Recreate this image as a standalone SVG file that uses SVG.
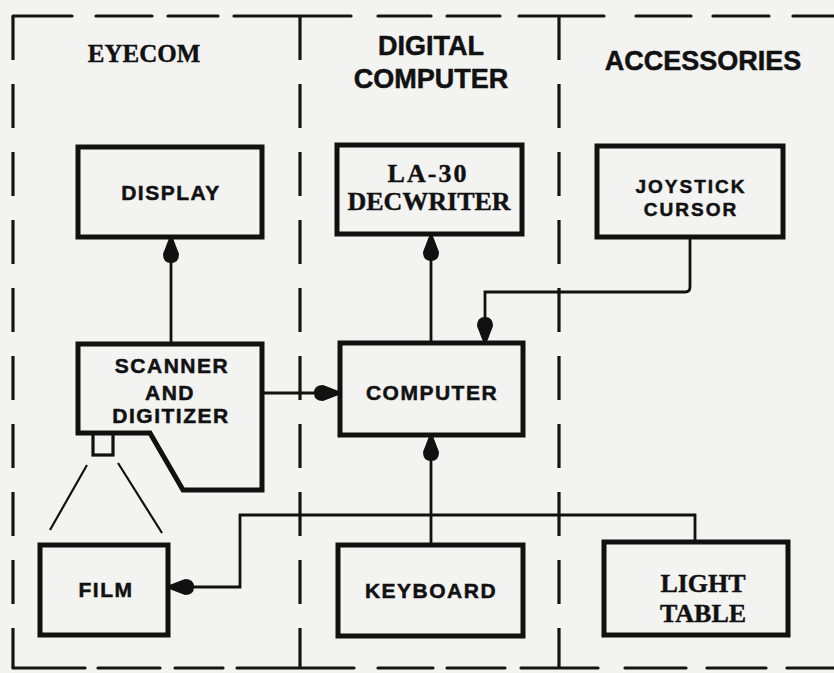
<svg xmlns="http://www.w3.org/2000/svg" width="834" height="673" viewBox="0 0 834 673">
<style>
.bg{fill:#f3f3f1}
.frame{fill:none;stroke:#141414;stroke-width:3.2;stroke-linecap:round}
.vdash{fill:none;stroke:#141414;stroke-width:3.2;stroke-dasharray:44 24}
.box{fill:none;stroke:#111;stroke-width:5;stroke-linejoin:miter}
.conn{fill:none;stroke:#111;stroke-width:2.8}
.thin{fill:none;stroke:#111;stroke-width:2.2}
.sans{font-family:"Liberation Sans",Arial,sans-serif;font-weight:bold;fill:#111;stroke:#111;stroke-width:0.5;text-anchor:middle}
.tw{font-family:"Liberation Serif","Times New Roman",serif;font-weight:bold;fill:#111;stroke:#111;stroke-width:0.4;text-anchor:middle;font-size:26px}
.hdr{font-size:27px}
.lbl{font-size:21px;letter-spacing:1.5px}
.sml{font-size:19px;letter-spacing:2px}
</style>
<defs>
<marker id="ah" markerUnits="userSpaceOnUse" markerWidth="30" markerHeight="20" viewBox="0 -10 28 20" refX="27" refY="0" orient="auto">
<path d="M27,-1.5 L27,1.5 L10,8 Q1,8 1,0 Q1,-8 10,-8 Z" fill="#111"/>
</marker>
</defs>
<rect class="bg" x="0" y="0" width="834" height="673"/>
<g id="frame">
<path class="frame" d="M13,16 H72 M96,16 H152 M168,16 H218 M234,16 H351 M378,16 H431 M447,16 H500 M519,16 H604 M636,16 H691 M713,16 H769 M793,16 H834"/>
<path class="frame" d="M13,668 H85 M98,668 H160 M175,668 H223 M237,668 H354 M378,668 H433 M447,668 H505 M521,668 H598 M625,668 H686 M707,668 H766 M787,668 H834"/>
<path class="vdash" d="M13,16 V668"/>
<path class="vdash" d="M300,16 V668"/>
<path class="vdash" d="M559,16 V668"/>
</g>
<g id="headers">
<text class="tw" x="144" y="62" style="font-size:25px">EYECOM</text>
<text class="sans hdr" x="431" y="55">DIGITAL</text>
<text class="sans hdr" x="431" y="88">COMPUTER</text>
<text class="sans hdr" x="703" y="70">ACCESSORIES</text>
</g>
<g id="connectors">
<path class="conn" d="M171,343 V237" marker-end="url(#ah)"/>
<path class="conn" d="M431,343 V235" marker-end="url(#ah)"/>
<path class="conn" d="M262,393 H340" marker-end="url(#ah)"/>
<path class="conn" d="M690,237 V287 Q690,292 685,292 H485 V343" marker-end="url(#ah)"/>
<path class="conn" d="M431,545 V435" marker-end="url(#ah)"/>
<path class="conn" d="M695,542 V515 H240 V587 H168" marker-end="url(#ah)"/>
<path class="thin" d="M87,465 L50,530 M118,463 L162,533"/>
</g>
<g id="display">
<rect class="box" x="78" y="147" width="184" height="90"/>
<text class="sans lbl" x="171" y="200">DISPLAY</text>
</g>
<g id="decwriter">
<rect class="box" x="337" y="145" width="185" height="89"/>
<text class="tw" x="428" y="182" style="letter-spacing:2px">LA-30</text>
<text class="tw" x="429" y="210">DECWRITER</text>
</g>
<g id="joystick">
<rect class="box" x="597" y="146" width="186" height="91"/>
<text class="sans sml" x="691" y="193">JOYSTICK</text>
<text class="sans sml" x="691" y="216">CURSOR</text>
</g>
<g id="scanner">
<path class="box" d="M78,344 H262 V490 H183 L150,433 H78 Z"/>
<rect x="93" y="433" width="20" height="22" fill="none" stroke="#111" stroke-width="3.2"/>
<text class="sans lbl" x="172" y="373">SCANNER</text>
<text class="sans lbl" x="170" y="400">AND</text>
<text class="sans lbl" x="171" y="423">DIGITIZER</text>
</g>
<g id="computer">
<rect class="box" x="340" y="343" width="183" height="92"/>
<text class="sans lbl" x="432" y="400">COMPUTER</text>
</g>
<g id="film">
<rect class="box" x="40" y="545" width="128" height="90"/>
<text class="sans lbl" x="106" y="597">FILM</text>
</g>
<g id="keyboard">
<rect class="box" x="338" y="545" width="185" height="91"/>
<text class="sans lbl" x="431" y="598">KEYBOARD</text>
</g>
<g id="lighttable">
<rect class="box" x="604" y="542" width="184" height="93"/>
<text class="tw" x="703" y="592">LIGHT</text>
<text class="tw" x="703" y="622">TABLE</text>
</g>
</svg>
